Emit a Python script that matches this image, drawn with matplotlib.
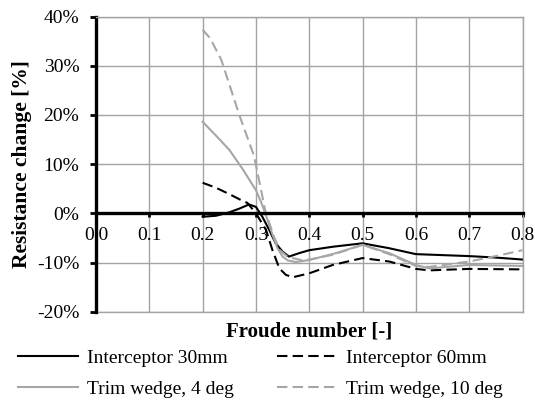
import numpy as np
import matplotlib
matplotlib.use("Agg")
import matplotlib.pyplot as plt
from matplotlib.ticker import FuncFormatter, MultipleLocator

plt.rcParams['font.family'] = ['Liberation Serif', 'DejaVu Serif']

# Interceptor 30mm
fr_i30 = [0.20, 0.225, 0.25, 0.27, 0.287, 0.30, 0.312, 0.325, 0.337, 0.35, 0.362,
          0.381, 0.40, 0.444, 0.50, 0.55, 0.60, 0.65, 0.70, 0.75, 0.80]
rc_i30 = [-0.7, -0.5, 0.2, 1.0, 1.8, 1.3, -0.7, -3.4, -6.1, -7.8, -8.8,
          -8.1, -7.5, -6.8, -6.1, -7.1, -8.3, -8.5, -8.7, -9.0, -9.4]

# Interceptor 60mm
fr_i60 = [0.20, 0.225, 0.25, 0.27, 0.284, 0.30, 0.319, 0.331, 0.344, 0.356, 0.369,
          0.40, 0.444, 0.50, 0.55, 0.60, 0.625, 0.70, 0.80]
rc_i60 = [6.2, 5.2, 3.9, 2.8, 2.1, 0.0, -3.4, -7.5, -11.2, -12.5, -13.0,
          -12.2, -10.5, -9.1, -9.8, -11.3, -11.6, -11.3, -11.4]

# Trim wedge, 4 deg
fr_tw4 = [0.20, 0.225, 0.25, 0.275, 0.30, 0.31, 0.32, 0.33, 0.34, 0.35, 0.36,
          0.375, 0.40, 0.45, 0.50, 0.55, 0.60, 0.625, 0.70, 0.80]
rc_tw4 = [18.6, 15.8, 12.9, 9.0, 4.7, 2.2, -0.8, -4.0, -7.0, -8.8, -9.6,
          -9.9, -9.5, -8.1, -6.4, -8.1, -10.5, -11.2, -10.5, -10.7]

# Trim wedge, 10 deg
fr_tw10 = [0.20, 0.214, 0.235, 0.27, 0.296, 0.30, 0.318, 0.334, 0.345, 0.36, 0.385,
           0.40, 0.445, 0.50, 0.55, 0.60, 0.625, 0.70, 0.75, 0.80]
rc_tw10 = [37.3, 35.6, 31.2, 19.6, 11.8, 9.8, 0.3, -4.8, -7.5, -8.9, -9.5,
           -9.4, -8.4, -6.4, -8.3, -10.7, -10.9, -9.8, -8.7, -7.5]

gray = '#A6A6A6'
grid_c = '#A3A3A3'

fig = plt.figure(figsize=(5.35, 4.04), dpi=100)
ax = fig.add_axes([96 / 535, 1 - 311.7 / 404, 426.5 / 535, 295.2 / 404])

l1, = ax.plot(fr_i30, rc_i30, color='black', lw=1.5, label='Interceptor 30mm')
l2, = ax.plot(fr_i60, rc_i60, color='black', lw=1.5, dashes=(5, 2.5), label='Interceptor 60mm')
l3, = ax.plot(fr_tw4, rc_tw4, color=gray, lw=1.5, label='Trim wedge, 4 deg')
l4, = ax.plot(fr_tw10, rc_tw10, color=gray, lw=1.5, dashes=(5, 2.5), label='Trim wedge, 10 deg')

ax.set_xlim(0, 0.8)
ax.set_ylim(-20, 40)
ax.xaxis.set_major_locator(MultipleLocator(0.1))
ax.yaxis.set_major_locator(MultipleLocator(10))
ax.yaxis.set_major_formatter(FuncFormatter(lambda v, p: '%d%%' % v))
ax.xaxis.set_major_formatter(FuncFormatter(lambda v, p: '%.1f' % v))
ax.grid(True, color=grid_c, lw=1.0)
ax.set_axisbelow(True)

ax.spines['bottom'].set_position(('data', 0))
ax.spines['bottom'].set_linewidth(2.4)
ax.spines['left'].set_linewidth(2.4)
for s in ['top', 'right']:
    ax.spines[s].set_color(grid_c)
    ax.spines[s].set_linewidth(1.0)
ax.axhline(-20, color=grid_c, lw=1.0, clip_on=False, zorder=0)

ax.tick_params(axis='y', direction='out', length=4, width=2, pad=8, labelsize=14)
ax.tick_params(axis='x', direction='out', length=3, width=2, pad=7, labelsize=14)

ax.set_xlabel('Froude number [-]', fontsize=15, fontweight='bold')
ax.xaxis.set_label_coords(0.5, -0.033)
ax.xaxis.label.set_va('top')
ax.set_ylabel('Resistance change [%]', fontsize=15.5, fontweight='bold')
ax.yaxis.set_label_coords(-0.15, 0.5)

# row-major order like the original: (i30, i60) / (tw4, tw10)
fig.legend([l1, l3, l2, l4], [l1.get_label(), l3.get_label(), l2.get_label(), l4.get_label()],
           loc='upper left', bbox_to_anchor=(18 / 535, 1 - 349 / 404), ncol=2,
           frameon=False, fontsize=14, handlelength=3.1, handletextpad=0.45,
           columnspacing=2.2, labelspacing=0.7, borderpad=0, borderaxespad=0)

fig.savefig('out.png', dpi=100)
